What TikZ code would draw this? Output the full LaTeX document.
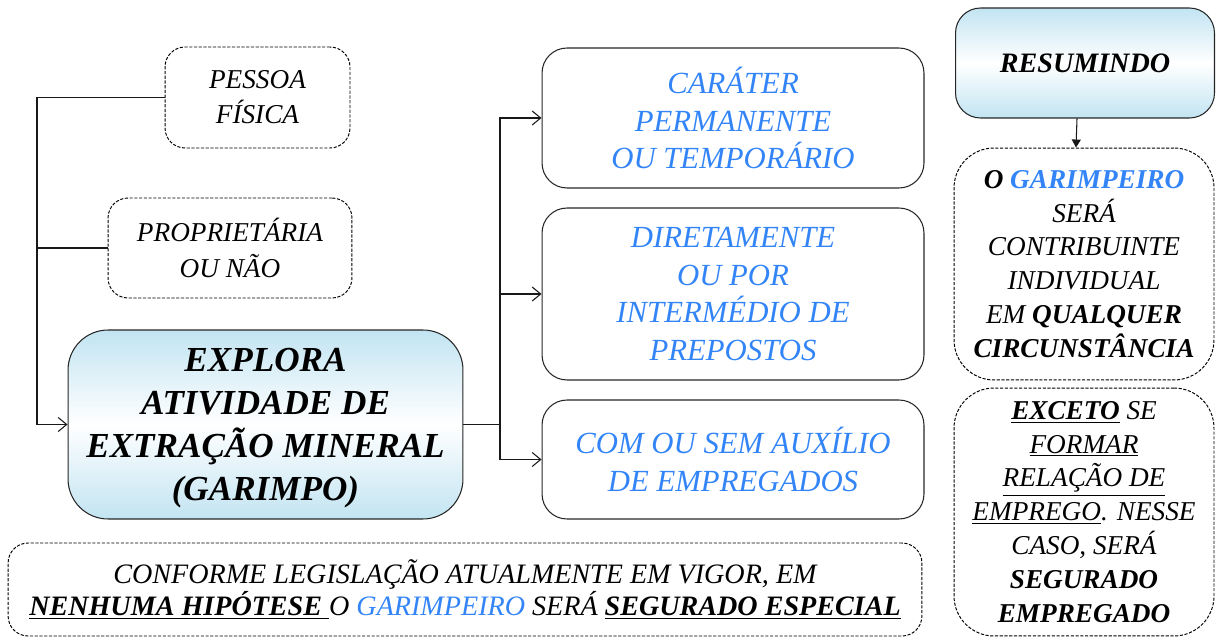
\documentclass[tikz,border=0pt]{standalone}
\usepackage{fontspec}
\setmainfont{Liberation Serif}
\usetikzlibrary{arrows.meta,positioning}
\definecolor{garblue}{HTML}{3385F7}
\definecolor{boxsky}{HTML}{C2E4F2}

\begin{document}
\begin{tikzpicture}[x=0.02cm, y=-0.02cm,
  dbox/.style={draw=black, line width=0.55pt, dash pattern=on 1.8pt off 0.9pt, rounded corners=0.4cm, align=center, inner sep=2pt},
  sbox/.style={draw=black!85, line width=0.6pt, rounded corners=0.5cm, align=center, inner sep=2pt, text=garblue,
    font=\fontsize{17.5}{21.5}\selectfont\itshape},
  gbox/.style={draw=black!85, line width=0.6pt, top color=boxsky, bottom color=boxsky, middle color=white, align=center, inner sep=2pt},
  lnk/.style={line width=0.6pt, black!90},
  >={Straight Barb[length=1.7mm,width=2.8mm]}
]
\useasboundingbox (0,0) rectangle (1216,638);

% left side
\node[dbox, minimum width=3.7cm, minimum height=2.02cm, font=\fontsize{15.5}{20}\selectfont\itshape] (pessoa) at (257.5,97.5) {PESSOA\\FÍSICA};
\node[dbox, minimum width=4.88cm, minimum height=2cm, font=\fontsize{15.5}{20}\selectfont\itshape] (propr) at (230,248) {PROPRIETÁRIA\\OU NÃO};
\node[gbox, rounded corners=0.8cm, minimum width=7.9cm, minimum height=3.78cm, font=\fontsize{20}{24.5}\selectfont\bfseries\itshape] (explora) at (265.5,424.5)
  {\\[-7pt]EXPLORA\\ATIVIDADE DE\\EXTRAÇÃO MINERAL\\(GARIMPO)};

% middle column
\node[sbox, minimum width=7.64cm, minimum height=2.8cm] (carater) at (733,118) {CARÁTER\\PERMANENTE\\OU TEMPORÁRIO};
\node[sbox, minimum width=7.64cm, minimum height=3.44cm] (diret) at (733,294) {DIRETAMENTE\\OU POR\\INTERMÉDIO DE\\PREPOSTOS};
\node[sbox, minimum width=7.64cm, minimum height=2.38cm] (comsem) at (733,459.5) {COM OU SEM AUXÍLIO\\DE EMPREGADOS};

% right column
\node[gbox, rounded corners=0.5cm, minimum width=5.18cm, minimum height=2.2cm, font=\fontsize{16}{19}\selectfont\bfseries\itshape] (resumo) at (1085,63) {RESUMINDO};
\node[dbox, rounded corners=0.8cm, minimum width=5.2cm, minimum height=4.64cm, font=\fontsize{15.5}{19.3}\selectfont\itshape] (garim) at (1084,264)
  {\textbf{O {\color{garblue}GARIMPEIRO}}\\SERÁ\\CONTRIBUINTE\\INDIVIDUAL\\EM \textbf{QUALQUER}\\\textbf{CIRCUNSTÂNCIA}};
\node[dbox, rounded corners=0.8cm, minimum width=5.2cm, minimum height=4.96cm, font=\fontsize{15.5}{19.3}\selectfont\itshape] (exceto) at (1084,512)
  {\underline{\textbf{EXCETO}} SE\\\underline{FORMAR}\\\underline{RELAÇÃO DE}\\\underline{EMPREGO}. NESSE\\CASO, SERÁ\\\textbf{SEGURADO}\\\textbf{EMPREGADO}};

% bottom note
\node[dbox, minimum width=18.28cm, minimum height=1.86cm, font=\fontsize{16}{18.7}\selectfont\itshape] (nota) at (465,589.5)
  {CONFORME LEGISLAÇÃO ATUALMENTE EM VIGOR, EM\\
   \underline{\textbf{NENHUMA HIPÓTESE }}O {\color{garblue}GARIMPEIRO} SERÁ \underline{\textbf{SEGURADO ESPECIAL}}};

% connectors
\coordinate (lt) at (37,97.5);
\coordinate (rt) at (500,424.5);
\draw[lnk,->] (pessoa.west) -- (lt) |- (explora.west);
\draw[lnk] (propr.west) -- (lt |- propr.west);
\draw[lnk] (explora.east) -- (rt);
\draw[lnk,->] (rt) |- (carater.west);
\draw[lnk,->] (rt) |- (diret.west);
\draw[lnk,->] (rt) |- (comsem.west);
\draw[lnk,-{Triangle[length=1.6mm,width=1.8mm]}] ([xshift=-0.16cm]resumo.south) -- ([xshift=-0.16cm]garim.north);
\end{tikzpicture}
\end{document}
